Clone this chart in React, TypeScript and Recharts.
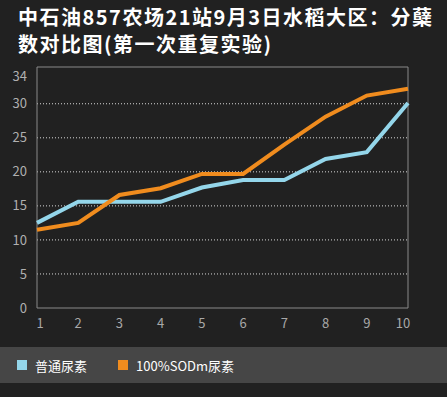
import { CartesianGrid, Line, LineChart, ReferenceArea, XAxis, YAxis } from "recharts";

const stations = [1, 2, 3, 4, 5, 6, 7, 8, 9, 10];
const normalUrea = [12.5, 15.6, 15.6, 15.6, 17.7, 18.8, 18.8, 21.9, 22.9, 30.1];
const sodmUrea = [11.5, 12.5, 16.6, 17.6, 19.7, 19.7, 24.0, 28.1, 31.2, 32.2];
const yTicks = [0, 5, 10, 15, 20, 25, 30, 34];
const gridValues = [5, 10, 15, 20, 25, 30];

const BLUE = "#94d6ea";
const ORANGE = "#f08c1e";
const FONT = "'Noto Sans CJK SC', 'Noto Sans', sans-serif";

const data = stations.map((s, i) => ({
  name: s,
  normal: normalUrea[i],
  sodm: sodmUrea[i],
}));

// first and last labels sit a little inside the plot frame
function XTick(props: any) {
  const { x, y, payload, index } = props;
  let dx = 0;
  if (index === 0) dx = 3;
  if (index === stations.length - 1) dx = -5;
  return (
    <text
      x={x + dx}
      y={y}
      dy={10}
      textAnchor="middle"
      fontSize={13}
      fill="#a8a8a8"
      fontFamily={FONT}
    >
      {payload.value}
    </text>
  );
}

export default function App() {
  return (
    <div
      style={{
        position: "fixed",
        top: 0,
        left: 0,
        width: 447,
        height: 397,
        background: "#212121",
        fontFamily: FONT,
        overflow: "hidden",
      }}
    >
      <div
        style={{
          position: "absolute",
          left: 18,
          top: 3,
          color: "#ffffff",
          fontWeight: 700,
          fontSize: 20,
          letterSpacing: "1.5px",
          lineHeight: "27px",
          whiteSpace: "nowrap",
        }}
      >
        <div>中石油857农场21站9月3日水稻大区：分蘖</div>
        <div>数对比图(第一次重复实验)</div>
      </div>

      <div style={{ position: "absolute", left: 0, top: 0 }}>
        <LineChart
          width={447}
          height={340}
          data={data}
          margin={{ top: 67, right: 39, left: 7, bottom: 2 }}
        >
          <CartesianGrid
            horizontal
            vertical={false}
            horizontalValues={gridValues}
            stroke="#d8d8d8"
            strokeDasharray="1 2"
          />
          <ReferenceArea
            x1={1}
            x2={10}
            y1={0}
            y2={35.4}
            fill="none"
            stroke="#8a8a8a"
            strokeWidth={1}
            ifOverflow="visible"
          />
          <XAxis
            dataKey="name"
            type="number"
            domain={[1, 10]}
            ticks={stations}
            axisLine={false}
            tickLine={false}
            height={30}
            tick={<XTick />}
            tickMargin={4}
          />
          <YAxis
            domain={[0, 35.4]}
            ticks={yTicks}
            axisLine={false}
            tickLine={false}
            width={30}
            tick={{ fontSize: 13, fill: "#b0b0b0", fontFamily: FONT }}
            tickMargin={4}
          />
          <Line
            dataKey="normal"
            stroke={BLUE}
            strokeWidth={4}
            dot={false}
            isAnimationActive={false}
          />
          <Line
            dataKey="sodm"
            stroke={ORANGE}
            strokeWidth={4}
            dot={false}
            isAnimationActive={false}
          />
        </LineChart>
      </div>

      <div
        style={{
          position: "absolute",
          left: 0,
          top: 347,
          width: 447,
          height: 36,
          background: "#464646",
          display: "flex",
          alignItems: "center",
          color: "#ffffff",
          fontSize: 13,
        }}
      >
        <span style={{ width: 10, height: 10, background: BLUE, marginLeft: 17, marginRight: 8 }} />
        <span>普通尿素</span>
        <span style={{ width: 10, height: 10, background: ORANGE, marginLeft: 31, marginRight: 8 }} />
        <span>100%SODm尿素</span>
      </div>
    </div>
  );
}
